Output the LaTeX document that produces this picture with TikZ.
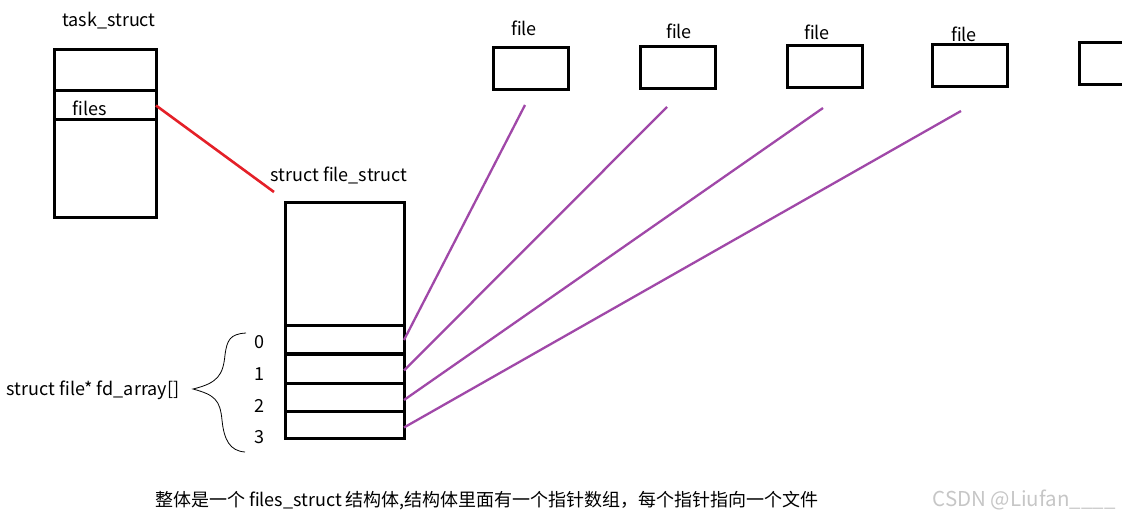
\documentclass[tikz,border=0pt]{standalone}
\usepackage{fontspec}
\setmainfont{Noto Sans CJK SC}
\usepackage{xcolor}
\usepackage{tikz}
\usetikzlibrary{positioning,calc}
\definecolor{ptrink}{RGB}{160,72,168}
\definecolor{linkink}{RGB}{228,32,40}

\begin{document}
\begin{tikzpicture}[x=1pt,y=-1pt,
  cell/.style={rectangle,draw,line width=3pt,inner sep=0pt,outer sep=0pt,minimum width=119pt},
  tcell/.style={cell,minimum width=102pt},
  filebox/.style={rectangle,draw,line width=3pt,inner sep=0pt,minimum width=75pt,minimum height=42pt},
  tag/.style={inner sep=0pt,font=\fontsize{18}{20}\selectfont},
  ptr/.style={draw=ptrink,line width=2.3pt},
  link/.style={draw=linkink,line width=2.6pt}
]
\useasboundingbox (0,0) rectangle (1122,521);
\clip (0,0) rectangle (1122,521);

% task_struct
\node[tag] (tname) at (109,21) {task\_struct};
\node[tcell,minimum height=41pt] (t0) at (105,70.5) {};
\node[tcell,minimum height=29pt,below=0pt of t0] (t1) {};
\node[tcell,minimum height=98pt,below=0pt of t1] (t2) {};
\node[tag] (files) at (90,108) {files};

% files_struct
\node[tag] (fsname) at (339,175) {struct file\_struct};
\node[cell,minimum height=123pt] (fs) at (344.5,264.5) {};
\node[cell,minimum height=28pt,below=0pt of fs] (c0) {};
\node[cell,minimum height=29pt,below=0pt of c0] (c1) {};
\node[cell,minimum height=28pt,below=0pt of c1] (c2) {};
\node[cell,minimum height=27pt,below=0pt of c2] (c3) {};
\coordinate (fsin) at (274,192);

% indices and brace
\node[tag] (i0) at (259,342) {0};
\node[tag] (i1) at (259,374) {1};
\node[tag] (i2) at (259,406) {2};
\node[tag] (i3) at (259,437) {3};
\node[tag] (fdarr) at (93,390) {struct file* fd\_array[]};
\draw[line width=0.8pt] (246,333) .. controls (230,334) and (227,340) .. (225,355)
  .. controls (223,375) and (218,383) .. (193,389)
  .. controls (215,395) and (220,400) .. (222,420)
  .. controls (224,440) and (230,451) .. (245,452);

% file objects
\node[filebox] (f1) at (530.5,69) {};
\node[filebox] (f2) at (678,68) {};
\node[filebox] (f3) at (824.5,66.5) {};
\node[filebox] (f4) at (969.5,65.5) {};
\node[filebox] (f5) at (1116.5,63.5) {};
\node[tag] (n1) at (524,28) {file};
\node[tag] (n2) at (679,31) {file};
\node[tag] (n3) at (817,32) {file};
\node[tag] (n4) at (964,34) {file};
\coordinate (p1) at (525,105);
\coordinate (p2) at (667,107);
\coordinate (p3) at (823,108);
\coordinate (p4) at (961,111);

% connectors
\draw[link] (t1.east) -- (fsin);
\draw[ptr] (c0.east) -- (p1);
\draw[ptr] ($(c1.east)+(0,2)$) -- (p2);
\draw[ptr] ($(c2.east)+(0,3)$) -- (p3);
\draw[ptr] ($(c3.east)+(0,3)$) -- (p4);

% caption
\node[inner sep=0pt,font=\fontsize{18}{20}\selectfont] (note) at (487,501)
  {整体是一个 files\_struct 结构体,结构体里面有一个指针数组，每个指针指向一个文件};
\node[inner sep=0pt,text=gray!45,font=\fontsize{20.5}{22}\selectfont] (mark) at (1024,500) {CSDN @Liufan\_\_\_\_};
\end{tikzpicture}
\end{document}
